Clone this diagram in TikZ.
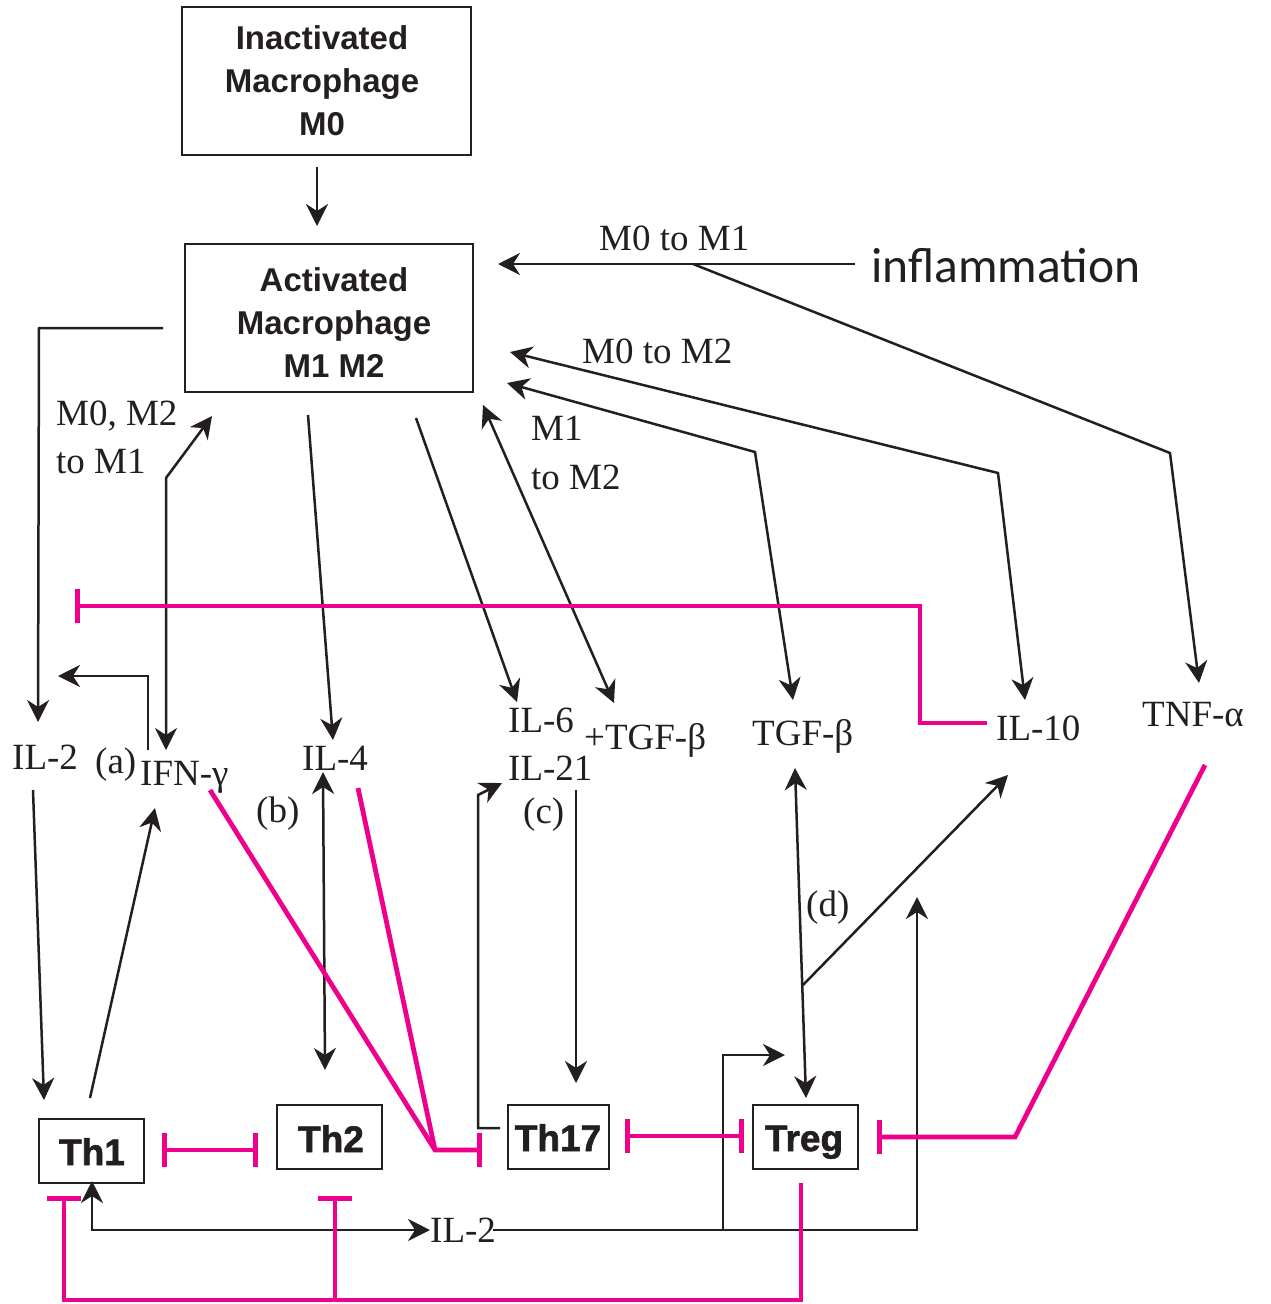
\documentclass[tikz,border=0pt]{standalone}
\usepackage{fontspec}
\setmainfont{Liberation Serif}
\newfontfamily\boxfont{Liberation Sans}
\newfontfamily\thfont[FakeBold=1.6]{Liberation Sans Bold}
\newfontfamily\inflfont{Carlito}
\usetikzlibrary{arrows.meta}
\definecolor{ink}{HTML}{231F20}
\definecolor{mag}{HTML}{EC008C}
\begin{document}
\begin{tikzpicture}[x=1pt,y=-1pt,
  tip/.tip={Stealth[length=22pt,width=22pt,inset=7pt]},
  tbar/.tip={Bar[width=34pt]},
  lbl/.style={inner sep=0pt, anchor=base west, font=\fontsize{37}{46}\selectfont, text=ink},
  mbox/.style={draw=ink, line width=2.4pt, rectangle, inner sep=0pt},
  btxt/.style={inner sep=0pt, font=\boxfont\bfseries\fontsize{33}{43}\selectfont, align=center, text=ink},
  thtxt/.style={inner sep=0pt, anchor=base, font=\thfont\fontsize{37}{40}\selectfont, text=ink},
  plain/.style={draw=ink, line width=2.5pt},
  arr/.style={plain, -tip},
  dbl/.style={plain, tip-tip},
  inh/.style={draw=mag, line width=4.8pt, -tbar},
  inhb/.style={draw=mag, line width=4.8pt, tbar-tbar},
  mline/.style={draw=mag, line width=4.8pt}
]
\useasboundingbox (0,0) rectangle (1270,1304);

% boxes
\node[mbox, minimum width=289pt, minimum height=148pt] (m0) at (326.5,81) {};
\node[btxt] (m0t) at (322,81) {Inactivated\\Macrophage\\M0};
\node[mbox, minimum width=288pt, minimum height=148pt] (act) at (329,318) {};
\node[btxt] (actt) at (334,323) {Activated\\Macrophage\\M1 M2};

\node[mbox, minimum width=105pt, minimum height=64pt] (th1) at (91.5,1151) {};
\node[thtxt] (th1t) at (92,1165) {Th1};
\node[mbox, minimum width=105pt, minimum height=64pt] (th2) at (329.5,1137) {};
\node[thtxt] (th2t) at (331,1152) {Th2};
\node[mbox, minimum width=101pt, minimum height=64pt] (th17) at (558.5,1137) {};
\node[thtxt] (th17t) at (558,1151) {Th17};
\node[mbox, minimum width=105pt, minimum height=64pt] (treg) at (805.5,1137) {};
\node[thtxt] (tregt) at (804,1151) {Treg};

% labels
\node[inner sep=0pt, anchor=base west, font=\inflfont\fontsize{49.5}{52}\selectfont, text=ink] (infl) at (871,282) {inflammation};
\node[lbl] (m0m1) at (599,250) {M0 to M1};
\node[lbl] (m0m2) at (582,363) {M0 to M2};
\node[lbl] (m1a) at (531,440) {M1};
\node[lbl] (m1b) at (531,489) {to M2};
\node[lbl] (m02a) at (56,425) {M0, M2};
\node[lbl] (m02b) at (56,473) {to M1};
\node[lbl] (il2) at (12,769) {IL-2};
\node[lbl] (la) at (95,773) {(a)};
\node[lbl] (ifn) at (140,785) {IFN-γ};
\node[lbl] (il4) at (302,770) {IL-4};
\node[lbl] (lb) at (256,822) {(b)};
\node[lbl] (il6) at (508,732) {IL-6};
\node[lbl] (il21) at (508,780) {IL-21};
\node[lbl] (ptgf) at (584,749) {+TGF-β};
\node[lbl] (lc) at (523,823) {(c)};
\node[lbl] (tgf) at (752,745) {TGF-β};
\node[lbl] (il10) at (996,740) {IL-10};
\node[lbl] (tnf) at (1142,726) {TNF-α};
\node[lbl] (ld) at (806,916) {(d)};
\node[lbl] (il2b) at (430,1242) {IL-2};

% coordinates
\coordinate (c1) at (317,167);   \coordinate (c2) at (317,226);
\coordinate (inflL) at (855,264); \coordinate (actR1) at (498,264);
\coordinate (br1) at (693,264);  \coordinate (br1k) at (1170,453); \coordinate (tnfT) at (1199,683);
\coordinate (m2k) at (998,473);  \coordinate (actR2) at (510,352); \coordinate (il10T) at (1025,700);
\coordinate (tgk) at (755,452);  \coordinate (actR3) at (507,383); \coordinate (tgfT) at (793,700);
\coordinate (actB1) at (483,405); \coordinate (ptgfT) at (614,703);
\coordinate (actB2) at (416,418); \coordinate (il6T) at (517,702);
\coordinate (actB3) at (308,415); \coordinate (il4T) at (333,740);
\coordinate (actL) at (163,328); \coordinate (lk) at (39,328); \coordinate (il2T) at (38,722);
\coordinate (actB4) at (212,416); \coordinate (ifk) at (166,478); \coordinate (ifnT) at (166,750);
\coordinate (ifs) at (148,750); \coordinate (ifk2) at (148,676); \coordinate (ifL) at (58,676);
\coordinate (il2s) at (33,790); \coordinate (th1T) at (44,1100);
\coordinate (th1s) at (90,1098); \coordinate (ifnB) at (155,808);
\coordinate (il4B) at (323,772); \coordinate (th2T) at (325,1070);
\coordinate (th17L) at (500,1128); \coordinate (lpk1) at (478,1128); \coordinate (lpk2) at (478,795); \coordinate (il21L) at (502,783);
\coordinate (il21s) at (576,790); \coordinate (th17T) at (576,1083);
\coordinate (tgfB) at (795,768); \coordinate (tregT) at (806,1098);
\coordinate (dk) at (803,985); \coordinate (il10B) at (1008,775);
\coordinate (th1B) at (92,1181); \coordinate (bk1) at (92,1230); \coordinate (il2bL) at (430,1230);
\coordinate (il2bR) at (493,1230); \coordinate (bk2) at (917,1230); \coordinate (upT) at (917,897);
\coordinate (bk3) at (723,1230); \coordinate (bk4) at (723,1055); \coordinate (tregL) at (785,1055);

% black connectors
\draw[arr] (c1) -- (c2);
\draw[arr] (inflL) -- (actR1);
\draw[arr] (br1) -- (br1k) -- (tnfT);
\draw[dbl] (actR2) -- (m2k) -- (il10T);
\draw[dbl] (actR3) -- (tgk) -- (tgfT);
\draw[dbl] (actB1) -- (ptgfT);
\draw[arr] (actB2) -- (il6T);
\draw[arr] (actB3) -- (il4T);
\draw[arr] (actL) -- (lk) -- (il2T);
\draw[dbl] (actB4) -- (ifk) -- (ifnT);
\draw[arr] (ifs) -- (ifk2) -- (ifL);
\draw[arr] (il2s) -- (th1T);
\draw[arr] (th1s) -- (ifnB);
\draw[dbl] (il4B) -- (th2T);
\draw[arr] (th17L) -- (lpk1) -- (lpk2) -- (il21L);
\draw[arr] (il21s) -- (th17T);
\draw[dbl] (tgfB) -- (tregT);
\draw[arr] (dk) -- (il10B);
\draw[dbl] (th1B) -- (bk1) -- (il2bL);
\draw[arr] (il2bR) -- (bk2) -- (upT);
\draw[arr] (bk3) -- (bk4) -- (tregL);

% magenta inhibitions
\coordinate (m1) at (987,723); \coordinate (m2) at (920,723); \coordinate (m3) at (920,606); \coordinate (m4) at (75,606);
\draw[inh, line join=miter] (m1) -- (m2) -- (m3) -- (m4);
\coordinate (v1) at (210,790); \coordinate (v2) at (435,1150); \coordinate (v3) at (482,1150); \coordinate (v4) at (358,788);
\draw[inh, line join=miter] (v1) -- (v2) -- (v3);
\draw[mline] (v4) -- (v2);
\coordinate (h1) at (162,1150); \coordinate (h2) at (258,1150);
\draw[inhb] (h1) -- (h2);
\coordinate (h3) at (625,1136); \coordinate (h4) at (744,1136);
\draw[inhb] (h3) -- (h4);
\coordinate (t1) at (1205,765); \coordinate (t2) at (1015,1137); \coordinate (t3) at (877,1137);
\draw[inh, line join=miter] (t1) -- (t2) -- (t3);
\coordinate (b1) at (801,1183); \coordinate (b2) at (801,1300); \coordinate (b3) at (64,1300); \coordinate (b4) at (64,1196);
\draw[inh, line join=miter] (b1) -- (b2) -- (b3) -- (b4);
\coordinate (b5) at (335,1300); \coordinate (b6) at (335,1196);
\draw[inh] (b5) -- (b6);
\end{tikzpicture}
\end{document}
